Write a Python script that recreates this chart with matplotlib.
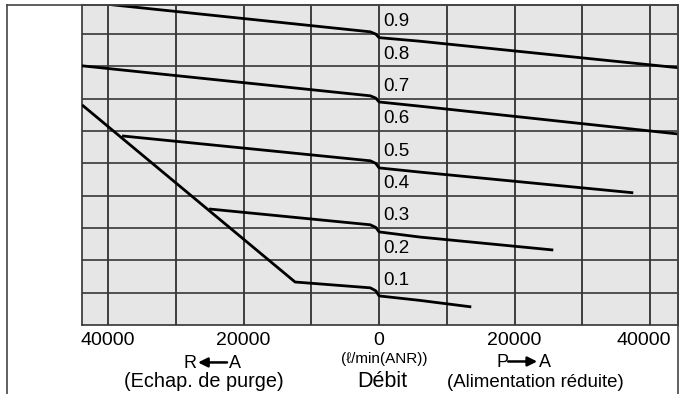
import matplotlib.pyplot as plt
from matplotlib.lines import Line2D
from matplotlib.transforms import ScaledTranslation

plt.rcParams['font.family'] = ['Liberation Sans', 'DejaVu Sans']

# débit (l/min ANR) : négatif = R->A (échappement), positif = P->A
# pression de sortie (MPa)
c09_x = [-40000, -1300, -500, 0, 6000, 44100]
c09_y = [0.992, 0.907, 0.900, 0.889, 0.878, 0.796]

c07_x = [-43900, -1300, -500, 0, 6000, 44100]
c07_y = [0.802, 0.709, 0.702, 0.690, 0.677, 0.591]

c05_x = [-37930, -1300, -500, 0, 6050, 37500]
c05_y = [0.585, 0.508, 0.500, 0.486, 0.473, 0.409]

c03_x = [-25090, -1300, -500, 0, 6050, 25700]
c03_y = [0.359, 0.310, 0.302, 0.288, 0.272, 0.232]

c01_x = [-43840, -12400, -1300, -500, 0, 6050, 13600]
c01_y = [0.681, 0.133, 0.115, 0.106, 0.090, 0.076, 0.056]

pressions = [0.1, 0.2, 0.3, 0.4, 0.5, 0.6, 0.7, 0.8, 0.9]
ticks_x = [-40000, -30000, -20000, -10000, 0, 10000, 20000, 30000, 40000]
ticks_lab = ['40000', '', '20000', '', '0', '', '20000', '', '40000']

W, H = 692, 394
fig = plt.figure(figsize=(W / 100, H / 100), dpi=100)
ax = fig.add_axes([82 / W, (H - 325) / H, (678 - 82) / W, (325 - 5) / H])
ax.set_facecolor('#e6e6e6')

ax.set_xlim(-43840, 44100)
ax.set_ylim(0, 0.99)

ax.set_xticks(ticks_x, labels=ticks_lab)
ax.set_yticks(pressions)
ax.tick_params(axis='x', length=0, pad=5, labelsize=14)
ax.tick_params(axis='y', length=0, labelleft=False)
ax.grid(axis='x', color='#222222', lw=1.2)
ax.grid(axis='y', color='#363636', lw=1.2)
for s in ax.spines.values():
    s.set_color('#333333')
    s.set_linewidth(1.2)

for xs, ys in [(c09_x, c09_y), (c07_x, c07_y), (c05_x, c05_y),
               (c03_x, c03_y), (c01_x, c01_y)]:
    ax.plot(xs, ys, color='black', lw=2.0, solid_capstyle='butt', zorder=3)

for p in pressions:
    ax.text(600, p + 0.024, f'{p:.1f}', fontsize=13.5, ha='left', va='baseline')

# décaler le dernier libellé pour qu'il tienne dans le cadre
lab = ax.get_xticklabels()[-1]
lab.set_transform(lab.get_transform() + ScaledTranslation(-6.5 / 100, 0, fig.dpi_scale_trans))

tr = ax.get_xaxis_transform()
ax.text(-27900, -0.134, 'R', fontsize=13, ha='center', va='baseline', transform=tr)
ax.text(-21250, -0.134, 'A', fontsize=13, ha='center', va='baseline', transform=tr)
ax.annotate('', xy=(-26720, -0.117), xytext=(-22440, -0.117), xycoords=tr,
            arrowprops=dict(arrowstyle='-|>', color='black', lw=1.8, mutation_scale=14,
                            shrinkA=0, shrinkB=0), annotation_clip=False)
ax.text(18150, -0.131, 'P', fontsize=13, ha='center', va='baseline', transform=tr)
ax.text(24500, -0.131, 'A', fontsize=13, ha='center', va='baseline', transform=tr)
ax.annotate('', xy=(23320, -0.114), xytext=(19040, -0.114), xycoords=tr,
            arrowprops=dict(arrowstyle='-|>', color='black', lw=1.8, mutation_scale=14,
                            shrinkA=0, shrinkB=0), annotation_clip=False)
ax.text(-25830, -0.194, '(Echap. de purge)', fontsize=14.3, ha='center', va='baseline', transform=tr)
ax.text(23030, -0.194, '(Alimentation réduite)', fontsize=13.4, ha='center', va='baseline', transform=tr)
ax.text(440, -0.194, 'Débit', fontsize=15.5, ha='center', va='baseline', transform=tr)
ax.text(740, -0.119, '(ℓ/min(ANR))', fontsize=11, ha='center', va='baseline', transform=tr)

# cadre extérieur
top = (H - 5) / H
fig.add_artist(Line2D([7 / W, 7 / W], [0, top], color='#444444', lw=1.2))
fig.add_artist(Line2D([7 / W, 678 / W], [top, top], color='#444444', lw=1.2))
fig.add_artist(Line2D([678 / W, 678 / W], [0, top], color='#444444', lw=1.2))

fig.savefig('out.png', dpi=100)
